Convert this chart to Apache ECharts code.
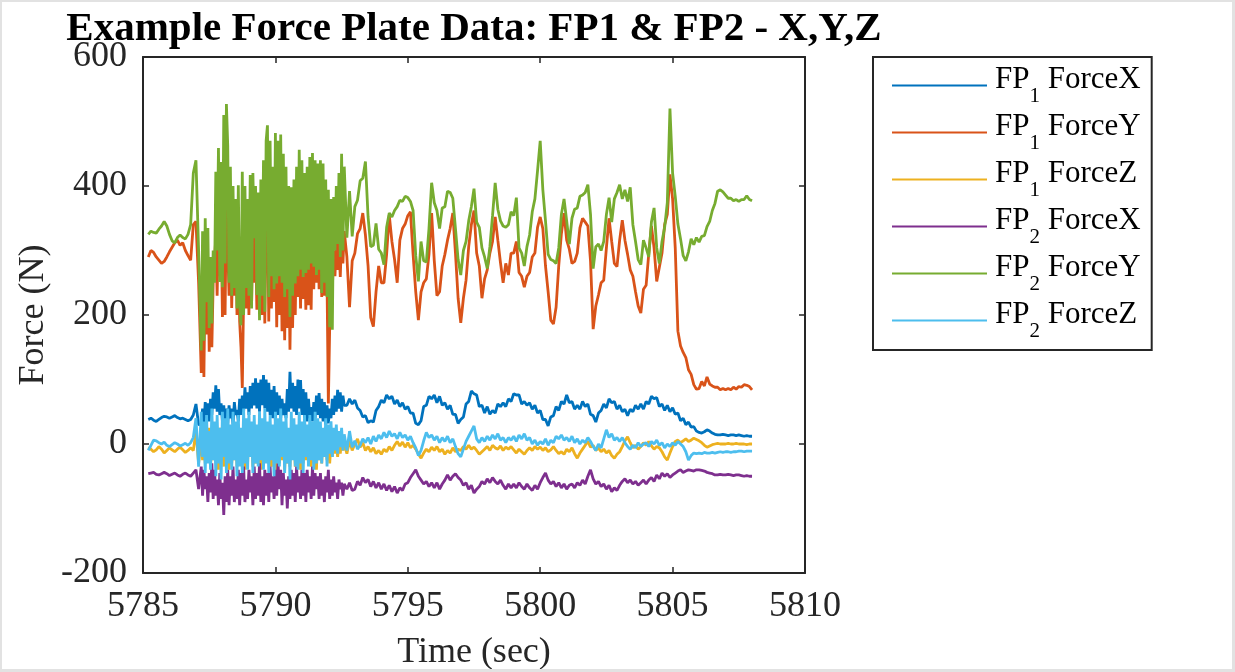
<!DOCTYPE html>
<html>
<head>
<meta charset="utf-8">
<script src="https://cdn.jsdelivr.net/npm/echarts@6/dist/echarts.min.js"></script>
<style>
  html, body { margin: 0; padding: 0; background: #fff; }
  #wrap { position: relative; width: 1235px; height: 672px; }
  #chart { width: 1235px; height: 672px; }
  #frame { position: absolute; left: 0; top: 0; width: 1235px; height: 672px; box-sizing: border-box;
           border-style: solid; border-color: #e2e2e2; border-width: 2px 3px 3px 2px; pointer-events: none; }
</style>
</head>
<body>
<div id="wrap"><div id="chart"></div><div id="frame"></div></div>
<script>
// Sample clock: three recording segments (start s, step s, count);
// the middle one is the finer-sampled busy stretch
const timeSegments = [
  [5785.2, 0.1, 20],
  [5787.2, 0.05, 109],
  [5792.7, 0.1, 154]
];

// Force plate 1, X component (N)
const fp1ForceX = [
  38, 40, 37, 35, 38, 41, 43, 42, 40, 42, 44, 41, 39, 40, 38, 36, 38, 45, 62, 30,
  // busy stretch
  30, 55, 28, 65, 40, 63, 35, 70, 45, 80,
  55, 91, 50, 85, 45, 63, 35, 60, 32, 55,
  32, 60, 40, 55, 30, 65, 45, 53, 35, 70,
  45, 75, 50, 88, 55, 80, 45, 90, 55, 95,
  60, 102, 55, 95, 50, 100, 60, 107, 55, 100,
  50, 95, 45, 84, 40, 90, 35, 80, 45, 75,
  40, 70, 45, 63, 40, 85, 50, 112, 55, 95,
  50, 90, 45, 100, 55, 99, 45, 85, 40, 80,
  35, 70, 40, 57, 35, 65, 40, 75, 45, 79,
  40, 70, 35, 65, 30, 60, 32, 55, 40, 70,
  45, 75, 50, 84, 55, 80, 50, 75, 60,
  // settled part
  60, 70, 62,
  68, 56, 52, 42, 44, 33, 36, 34, 52, 58,
  68, 64, 76, 70, 74, 62, 68, 58, 64, 54,
  58, 48, 48, 32, 30, 36, 58, 60, 74, 70,
  76, 64, 74, 60, 64, 54, 60, 46, 46, 32,
  38, 42, 62, 66, 82, 78, 76, 58, 60, 48,
  58, 46, 52, 48, 62, 58, 64, 58, 70, 66,
  78, 76, 76, 62, 66, 60, 64, 54, 60, 48,
  52, 38, 38, 28, 42, 44, 58, 52, 66, 62,
  76, 64, 66, 54, 60, 54, 66, 58, 62, 46,
  44, 34, 48, 52, 62, 56, 70, 64, 66, 54,
  60, 50, 54, 44, 54, 50, 60, 54, 62, 54,
  66, 62, 74, 70, 72, 58, 62, 52, 60, 50,
  56, 46, 48, 36, 40, 30, 34, 26, 27, 20,
  18, 17, 19, 22, 20, 17, 15, 14, 14, 15,
  14, 13, 14, 14, 13, 14, 13, 12, 13, 12,
  12
];

// Force plate 1, Y component (N)
const fp1ForceY = [
  290, 300, 297, 290, 285, 280, 283, 290, 298, 305, 312, 316, 308, 312, 300, 292, 285, 340, 345, 250,
  110, 300, 104, 280, 170, 290, 143, 260, 150, 250,
  250, 320, 230, 345, 260, 340, 197, 370, 200, 380,
  383, 230, 360, 211, 320, 230, 340, 200, 345, 190,
  150, 87, 230, 320, 210, 330, 200, 340, 215, 330,
  250, 330, 208, 320, 205, 340, 200, 350, 187, 360,
  370, 190, 350, 210, 340, 220, 345, 181, 330, 200,
  347, 175, 320, 161, 310, 180, 300, 146, 290, 180,
  310, 200, 330, 228, 320, 210, 335, 225, 310, 208,
  320, 215, 330, 208, 340, 240, 350, 250, 352, 240,
  340, 228, 330, 230, 300, 250, 63, 180, 260, 240,
  300, 260, 320, 270, 310, 259, 321, 280, 330,
  290, 212, 284,
  296, 326, 334, 358, 324, 276, 196, 182, 236, 276,
  250, 250, 294, 355, 314, 286, 250, 316, 334, 341,
  354, 360, 294, 236, 192, 236, 250, 256, 294, 358,
  284, 230, 236, 276, 294, 316, 334, 358, 296, 226,
  188, 226, 254, 306, 340, 362, 296, 276, 226, 256,
  270, 296, 314, 352, 316, 281, 250, 280, 262, 296,
  296, 314, 266, 260, 243, 260, 266, 290, 296, 336,
  352, 334, 276, 236, 192, 186, 212, 276, 326, 358,
  316, 302, 280, 283, 296, 335, 350, 344, 338, 284,
  178, 214, 231, 250, 254, 304, 350, 314, 280, 275,
  316, 347, 316, 294, 270, 260, 236, 214, 203, 240,
  246, 295, 338, 304, 252, 274, 296, 340, 356, 418,
  380, 304, 175, 152, 142, 134, 115, 108, 92, 85,
  86, 97, 90, 104, 93, 90, 88, 88, 84, 86,
  84, 86, 84, 88, 85, 89, 88, 92, 91, 89,
  84
];

// Force plate 1, Z component (N)
const fp1ForceZ = [
  -5, -8, -12, -9, -4, -8, -14, -10, -6, -9, -12, -8, -5, -9, -13, -10, -6, -10, 20, -30,
  10, -25, 20, -30, 15, -20, 25, -35, 5, -25,
  20, -30, 10, -40, 25, -25, 15, -35, 30, -20,
  5, -40, 20, -30, 10, -25, 25, -35, 15, -30,
  20, -25, 5, -40, 15, -30, 25, -20, 10, -35,
  15, -30, 20, -25, 0, -40, 10, -35, 25, -20,
  5, -30, 15, -35, 20, -25, 10, -45, 0, -30,
  15, -25, 20, -40, 10, -30, 5, -35, 15, -20,
  10, -35, 20, -25, 5, -40, 15, -30, 10, -25,
  15, -20, 10, -35, 20, -30, 5, -40, 15, -25,
  10, -30, 15, -20, 5, -25, 10, -30, 0, -20,
  10, -15, 5, -20, 0, -15, 5, -10, 0,
  -15, 5, -10,
  0, 8, -5, 2, -10, -4, -12, -6, -15, -10,
  -16, -8, -12, -4, -10, -2, 4, -3, 3, -5,
  2, -6, -2, -8, -15, -22, -14, -8, -12, -5,
  -10, -4, -12, -8, -16, -10, -14, -6, -12, -8,
  -10, -4, -8, -2, -8, -5, -10, -16, -12, -8,
  -4, -10, -2, -6, -8, -3, -10, -5, -8, -4,
  -9, -14, -8, -12, -16, -10, -6, -10, -4, -8,
  -5, -10, -6, -12, -9, -4, -10, -15, -12, -16,
  -8, -12, -6, -15, -22, -14, -8, -2, 4, -5,
  -2, -10, -6, -12, -8, -14, -10, -18, -22, -16,
  -12, -4, 5, 11, 2, -6, -2, -8, -4, 2,
  -2, 4, -3, -8, -4, -6, -12, -20, -25, -14,
  -4, 4, 6, 2, 5, 8, 4, 6, 9, 7,
  5, 2, -2, -5, -3, -1, 0, 1, 0, 0,
  0, 1, 0, 0, 1, 0, 0, 0, -1, 0,
  0
];

// Force plate 2, X component (N)
const fp2ForceX = [
  -46, -45, -44, -47, -48, -46, -44, -46, -49, -47, -45, -48, -50, -47, -45, -48, -50, -45, -40, -70,
  -35, -80, -40, -70, -50, -90, -45, -75, -30, -85,
  -40, -80, -55, -95, -45, -85, -60, -110, -50, -90,
  -40, -95, -50, -80, -35, -90, -55, -85, -40, -95,
  -45, -80, -35, -90, -55, -85, -40, -75, -50, -95,
  -35, -85, -45, -80, -30, -90, -50, -95, -40, -80,
  -45, -90, -35, -75, -50, -85, -40, -80, -30, -70,
  -40, -95, -45, -80, -55, -100, -50, -85, -40, -80,
  -45, -90, -35, -75, -50, -85, -40, -80, -45, -90,
  -40, -75, -50, -85, -35, -80, -45, -70, -50, -85,
  -45, -80, -55, -90, -50, -75, -40, -85, -55, -80,
  -50, -75, -60, -85, -55, -70, -60, -80, -62,
  -70, -60, -72,
  -70, -58, -64, -52, -60, -55, -66, -58, -68, -60,
  -70, -62, -72, -64, -74, -66, -76, -68, -72, -62,
  -60, -52, -46, -40, -50, -56, -62, -58, -66, -60,
  -68, -60, -70, -62, -56, -48, -56, -50, -46, -52,
  -56, -64, -60, -70, -64, -76, -70, -66, -58, -62,
  -54, -60, -52, -58, -62, -56, -64, -70, -62, -68,
  -62, -68, -60, -66, -70, -62, -68, -72, -64, -70,
  -60, -52, -45, -56, -62, -58, -66, -60, -68, -62,
  -70, -64, -62, -68, -60, -64, -56, -62, -50, -40,
  -54, -62, -58, -66, -62, -70, -64, -74, -68, -72,
  -64, -58, -54, -60, -56, -62, -58, -64, -60, -56,
  -62, -56, -52, -58, -48, -54, -45, -50, -46, -52,
  -48, -45, -42, -40, -44, -42, -40, -41, -42, -40,
  -40, -41, -42, -44, -45, -46, -48, -48, -47, -48,
  -48, -47, -48, -49, -48, -48, -49, -50, -49, -50,
  -50
];

// Force plate 2, Y component (N)
const fp2ForceY = [
  325, 330, 328, 327, 333, 338, 345, 338, 325, 315, 312, 320, 324, 320, 318, 325, 340, 420, 440, 300,
  145, 330, 160, 350, 220, 335, 180, 290, 187, 300,
  250, 422, 300, 459, 251, 437, 243, 510, 280, 527,
  463, 250, 430, 230, 400, 242, 380, 210, 401, 220,
  184, 422, 200, 400, 242, 380, 230, 417, 210, 420,
  319, 400, 231, 390, 192, 410, 230, 440, 205, 470,
  494, 228, 470, 260, 430, 240, 482, 249, 470, 260,
  480, 250, 450, 228, 430, 240, 400, 197, 398, 230,
  410, 249, 430, 260, 456, 270, 440, 259, 420, 265,
  430, 270, 445, 280, 451, 275, 440, 262, 435, 270,
  440, 234, 435, 250, 410, 228, 394, 181, 380, 177,
  383, 300, 400, 310, 420, 290, 450, 300, 430,
  320, 392, 322,
  368, 378, 408, 412, 438, 352, 306, 308, 342, 302,
  296, 278, 336, 358, 352, 362, 368, 378, 376, 384,
  382, 376, 362, 292, 252, 314, 284, 282, 334, 405,
  374, 362, 334, 366, 368, 392, 390, 381, 334, 286,
  262, 300, 314, 346, 368, 396, 344, 336, 304, 290,
  272, 306, 354, 405, 364, 346, 338, 336, 340, 360,
  354, 382, 304, 296, 276, 306, 324, 360, 380, 424,
  470, 394, 346, 294, 286, 284, 280, 304, 356, 380,
  346, 310, 350, 364, 366, 384, 386, 390, 402, 356,
  272, 306, 310, 300, 314, 356, 382, 344, 380, 390,
  402, 380, 394, 376, 398, 340, 314, 286, 278, 316,
  304, 290, 344, 366, 304, 280, 314, 336, 374, 520,
  420, 384, 341, 318, 292, 284, 298, 318, 309, 320,
  313, 322, 323, 337, 345, 362, 373, 392, 394, 391,
  386, 381, 381, 377, 379, 376, 379, 379, 385, 379,
  377
];

// Force plate 2, Z component (N)
const fp2ForceZ = [
  -10, -2, 6, 5, 2, 0, 3, -2, -4, -1, 2, 0, -3, -1, 1, -2, 2, 10, 40, -35,
  50, -20, 35, -45, 45, -30, 20, -40, 55, -25,
  35, -50, 45, -30, 25, -55, 50, -20, 40, -45,
  55, -30, 30, -40, 50, -25, 35, -50, 45, -35,
  25, -45, 55, -30, 40, -40, 50, -20, 35, -45,
  45, -30, 30, -35, 50, -25, 40, -40, 55, -30,
  35, -45, 45, -25, 30, -50, 50, -30, 40, -35,
  55, -20, 35, -45, 45, -30, 25, -55, 50, -25,
  40, -35, 30, -40, 50, -30, 35, -45, 45, -20,
  30, -35, 45, -25, 35, -40, 50, -30, 40, -25,
  35, -30, 25, -20, 40, -35, 30, -15, 35, -20,
  25, -10, 30, -15, 20, -5, 25, -10, 15,
  -10, 20, -5,
  5, -8, -2, 8, 2, 10, 0, 12, 4, 14,
  8, 18, 10, 20, 12, 16, 8, 18, 10, 14,
  6, 12, 2, -6, -18, -10, 5, 18, 10, 14,
  6, 12, 2, 10, 4, 12, 2, 8, -4, -15,
  -20, -8, 4, 12, 20, 28, 8, 2, 10, 4,
  12, 6, 14, 8, 16, 6, 10, 2, 10, 6,
  12, 4, 14, 8, 16, 6, 10, 0, 6, -2,
  4, 0, 8, -2, 6, 2, 12, 8, 14, 6,
  10, 4, 12, 2, 8, 0, 6, 2, 10, 4,
  -4, -10, 0, -6, 8, 22, 10, 16, 6, 10,
  4, 10, 2, -4, -8, -2, -6, 2, -4, 0,
  2, -4, 4, 0, 6, -2, 2, -6, 0, -4,
  2, -2, 4, 0, -4, -12, -25, -18, -14, -15,
  -14, -15, -13, -14, -14, -13, -14, -13, -12, -13,
  -12, -12, -13, -12, -12, -11, -11, -12, -11, -11,
  -11
];

// Axis ticks
const xTicks = { min: 5785, max: 5810, step: 5 };
const yTicks = { min: -200, max: 600, step: 200 };

const seriesNames = ['FP1 ForceX', 'FP1 ForceY', 'FP1 ForceZ', 'FP2 ForceX', 'FP2 ForceY', 'FP2 ForceZ'];
const seriesValues = [fp1ForceX, fp1ForceY, fp1ForceZ, fp2ForceX, fp2ForceY, fp2ForceZ];
const seriesColors = ['#0072BD', '#D95319', '#EDB120', '#7E2F8E', '#77AC30', '#4DBEEE'];

const FONT = 'Liberation Serif';
const AX = '#262626';

// Expand the segments into the list of sample times
const sampleTimes = [];
timeSegments.forEach(([start, step, count]) => {
  for (let i = 0; i < count; i++) sampleTimes.push(Math.round((start + i * step) * 1000) / 1000);
});

const chart = echarts.init(document.getElementById('chart'), null, { renderer: 'canvas' });

const axisCommon = {
  type: 'value',
  axisLine: { show: true, onZero: false, lineStyle: { color: AX, width: 2 } },
  axisTick: { show: true, inside: true, length: 6, lineStyle: { color: AX, width: 1.5 } },
  splitLine: { show: false }
};

const option = {
  animation: false,
  backgroundColor: '#fff',
  title: {
    text: 'Example Force Plate Data: FP1 & FP2 - X,Y,Z',
    left: 469, top: 4, textAlign: 'center',
    textStyle: { fontFamily: FONT, fontSize: 41, fontWeight: 'bold', color: '#000' }
  },
  grid: { left: 143, top: 57, width: 662, height: 516, containLabel: false, outerBoundsMode: 'none' },
  xAxis: [
    Object.assign({}, axisCommon, {
      position: 'bottom', min: xTicks.min, max: xTicks.max, interval: xTicks.step,
      axisLabel: { color: AX, fontFamily: FONT, fontSize: 36, margin: 16, formatter: v => String(v) },
      name: 'Time (sec)', nameLocation: 'middle', nameGap: 62, nameMoveOverlap: false,
      nameTextStyle: { color: AX, fontFamily: FONT, fontSize: 36 }
    }),
    Object.assign({}, axisCommon, {
      position: 'top', min: xTicks.min, max: xTicks.max, interval: xTicks.step,
      axisLabel: { show: false }
    })
  ],
  yAxis: [
    Object.assign({}, axisCommon, {
      position: 'left', min: yTicks.min, max: yTicks.max, interval: yTicks.step,
      axisLabel: { color: AX, fontFamily: FONT, fontSize: 36, margin: 16, formatter: v => String(v) },
      name: 'Force (N)', nameLocation: 'middle', nameGap: 91, nameMoveOverlap: false,
      nameTextStyle: { color: AX, fontFamily: FONT, fontSize: 36 }
    }),
    Object.assign({}, axisCommon, {
      position: 'right', min: yTicks.min, max: yTicks.max, interval: yTicks.step,
      axisLabel: { show: false }
    })
  ],
  legend: {
    orient: 'vertical',
    left: 873, top: 57,
    padding: [7, 11, 8, 19],
    itemWidth: 95, itemHeight: 2, itemGap: 4,
    icon: 'rect',
    borderColor: AX, borderWidth: 2,
    backgroundColor: '#fff',
    data: seriesNames,
    formatter: name => {
      const m = name.match(/^FP(\d) (.*)$/);
      return '{f|FP}{s|' + m[1] + '}{n| ' + m[2] + '}';
    },
    textStyle: {
      fontFamily: FONT, fontSize: 31, color: '#000',
      rich: {
        f: { fontFamily: FONT, fontSize: 31, color: '#000', verticalAlign: 'top', padding: [0, 0, 12, 3] },
        n: { fontFamily: FONT, fontSize: 31, color: '#000', verticalAlign: 'top', padding: [0, 0, 12, 0] },
        s: { fontFamily: FONT, fontSize: 21, color: '#000', verticalAlign: 'bottom' }
      }
    }
  },
  series: seriesNames.map((name, k) => ({
    name,
    type: 'line',
    xAxisIndex: 0,
    yAxisIndex: 0,
    showSymbol: false,
    symbol: 'none',
    sampling: null,
    color: seriesColors[k],
    lineStyle: { color: seriesColors[k], width: 2.8 },
    data: seriesValues[k].map((v, i) => [sampleTimes[i], v])
  }))
};

chart.setOption(option);
</script>
</body>
</html>
